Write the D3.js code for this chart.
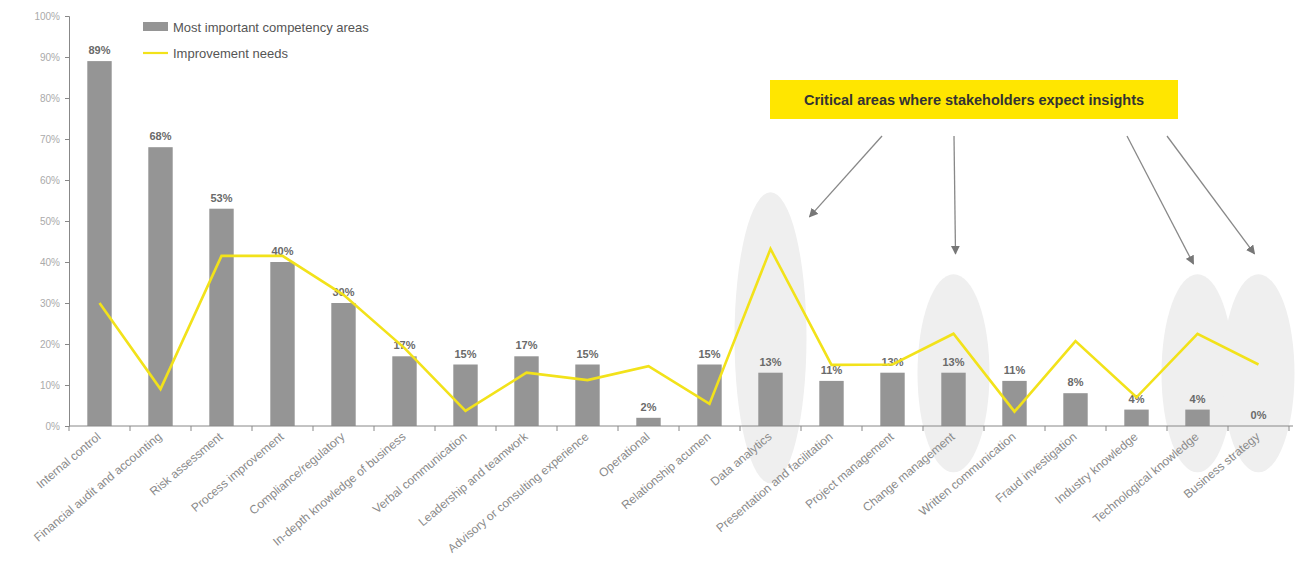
<!DOCTYPE html>
<html><head><meta charset="utf-8">
<script src="https://cdn.jsdelivr.net/npm/d3@7"></script>
<style>
body{margin:0;background:#fff;}
svg{display:block;font-family:"Liberation Sans",Arial,sans-serif;}
</style></head>
<body><svg id="c" width="1298" height="586"></svg>
<script>
const categories = ["Internal control","Financial audit and accounting","Risk assessment","Process improvement","Compliance/regulatory","In-depth knowledge of business","Verbal communication","Leadership and teamwork","Advisory or consulting experience","Operational","Relationship acumen","Data analytics","Presentation and facilitation","Project management","Change management","Written communication","Fraud investigation","Industry knowledge","Technological knowledge","Business strategy"];
const importance = [89,68,53,40,30,17,15,17,15,2,15,13,11,13,13,11,8,4,4,0];
const improvement = [30,9,41.5,41.5,32,19,3.7,13,11.2,14.6,5.4,43.2,14.9,15,22.5,3.5,20.7,7,22.5,15];
const yTicks = [0,10,20,30,40,50,60,70,80,90,100];
const highlighted = ["Data analytics","Change management","Technological knowledge","Business strategy"];
const calloutText = "Critical areas where stakeholders expect insights";

const svg = d3.select("#c");
const m = {l:69, r:9, t:16, b:160};
const W = 1298, H = 586;
const x = d3.scaleBand().domain(categories).range([m.l, W - m.r]).paddingInner(0.6).paddingOuter(0.3);
const y = d3.scaleLinear().domain([0,100]).range([H - m.b, m.t]);
const cx = c => x(c) + x.bandwidth()/2;

// highlight ellipses
const ell = svg.append("g");
highlighted.forEach(c => {
  const big = c === "Data analytics";
  const top = big ? y(57) : y(37);
  const bot = big ? y(-14) : y(-11.3);
  ell.append("ellipse").attr("cx", cx(c)).attr("cy", (top+bot)/2)
    .attr("rx", 36).attr("ry", (bot-top)/2).attr("fill", "#efefef");
});

// bars
svg.append("g").selectAll("rect").data(categories).join("rect")
  .attr("x", d => x(d)).attr("width", x.bandwidth())
  .attr("y", (d,i) => y(importance[i])).attr("height", (d,i) => y(0) - y(importance[i]))
  .attr("fill", "#959595");

// bar labels
svg.append("g").selectAll("text").data(categories).join("text")
  .attr("x", d => cx(d)).attr("y", (d,i) => y(importance[i]) - 7)
  .attr("text-anchor","middle").attr("font-size", 11).attr("font-weight","bold")
  .attr("fill","#6a6a6a").text((d,i) => importance[i] + "%");

// line
const line = d3.line().x((d,i) => cx(categories[i])).y(d => y(d));
svg.append("path").datum(improvement).attr("d", line)
  .attr("fill","none").attr("stroke","#f2e21a").attr("stroke-width",2.6).attr("stroke-linejoin","miter");

// y axis
const ya = svg.append("g").attr("transform", `translate(${m.l},0)`)
  .call(d3.axisLeft(y).tickValues(yTicks).tickFormat(d => d + "%").tickSize(4).tickPadding(5));
ya.select(".domain").attr("stroke","#888");
ya.selectAll(".tick line").attr("stroke","#888");
ya.selectAll("text").attr("fill","#aaa").attr("font-size",10);

// x axis
const step = x.step();
const xa = svg.append("g").attr("transform", `translate(0,${y(0)})`);
xa.append("line").attr("x1", m.l).attr("x2", W - m.r + 4).attr("stroke","#888");
const boundaries = d3.range(categories.length + 1).map(i => m.l + i * step);
xa.selectAll("line.tk").data(boundaries).join("line").attr("class","tk")
  .attr("x1", d => d).attr("x2", d => d).attr("y1",0).attr("y2",5).attr("stroke","#888");
xa.selectAll("text").data(categories).join("text")
  .attr("transform", d => `translate(${cx(d)+2},${12}) rotate(-40)`)
  .attr("text-anchor","end").attr("font-size",12).attr("fill","#8a8a8a").text(d => d);

// legend
const lg = svg.append("g").attr("transform","translate(143,27)");
lg.append("rect").attr("x",0).attr("y",-5).attr("width",25).attr("height",9).attr("fill","#959595");
lg.append("text").attr("x",30).attr("y",4.5).attr("font-size",13).attr("fill","#555").text("Most important competency areas");
lg.append("line").attr("x1",0).attr("x2",25).attr("y1",26).attr("y2",26).attr("stroke","#f2e21a").attr("stroke-width",2.2);
lg.append("text").attr("x",30).attr("y",30.5).attr("font-size",13).attr("fill","#555").text("Improvement needs");

// callout
const cb = svg.append("g");
cb.append("rect").attr("x",770).attr("y",80).attr("width",408).attr("height",39).attr("fill","#ffe600");
cb.append("text").attr("x",974).attr("y",105).attr("text-anchor","middle").attr("font-size",14.5)
  .attr("font-weight","bold").attr("fill","#333").text(calloutText);

// arrows
const defs = svg.append("defs");
defs.append("marker").attr("id","ah").attr("viewBox","0 0 10 10").attr("refX",9).attr("refY",5)
  .attr("markerWidth",7).attr("markerHeight",7).attr("orient","auto")
  .append("path").attr("d","M0,0 L10,5 L0,10 z").attr("fill","#777");
const arrows = [
  {x1:882, y1:136, c:"Data analytics", dx:39, v:51},
  {x1:954, y1:136, c:"Change management", dx:2, v:42},
  {x1:1127, y1:136, c:"Technological knowledge", dx:-4, v:39.5},
  {x1:1167, y1:136, c:"Business strategy", dx:-4, v:42}
];
svg.append("g").selectAll("line").data(arrows).join("line")
  .attr("x1", d => d.x1).attr("y1", d => d.y1)
  .attr("x2", d => cx(d.c) + d.dx).attr("y2", d => y(d.v))
  .attr("stroke","#888").attr("stroke-width",1.3).attr("marker-end","url(#ah)");
</script></body></html>
